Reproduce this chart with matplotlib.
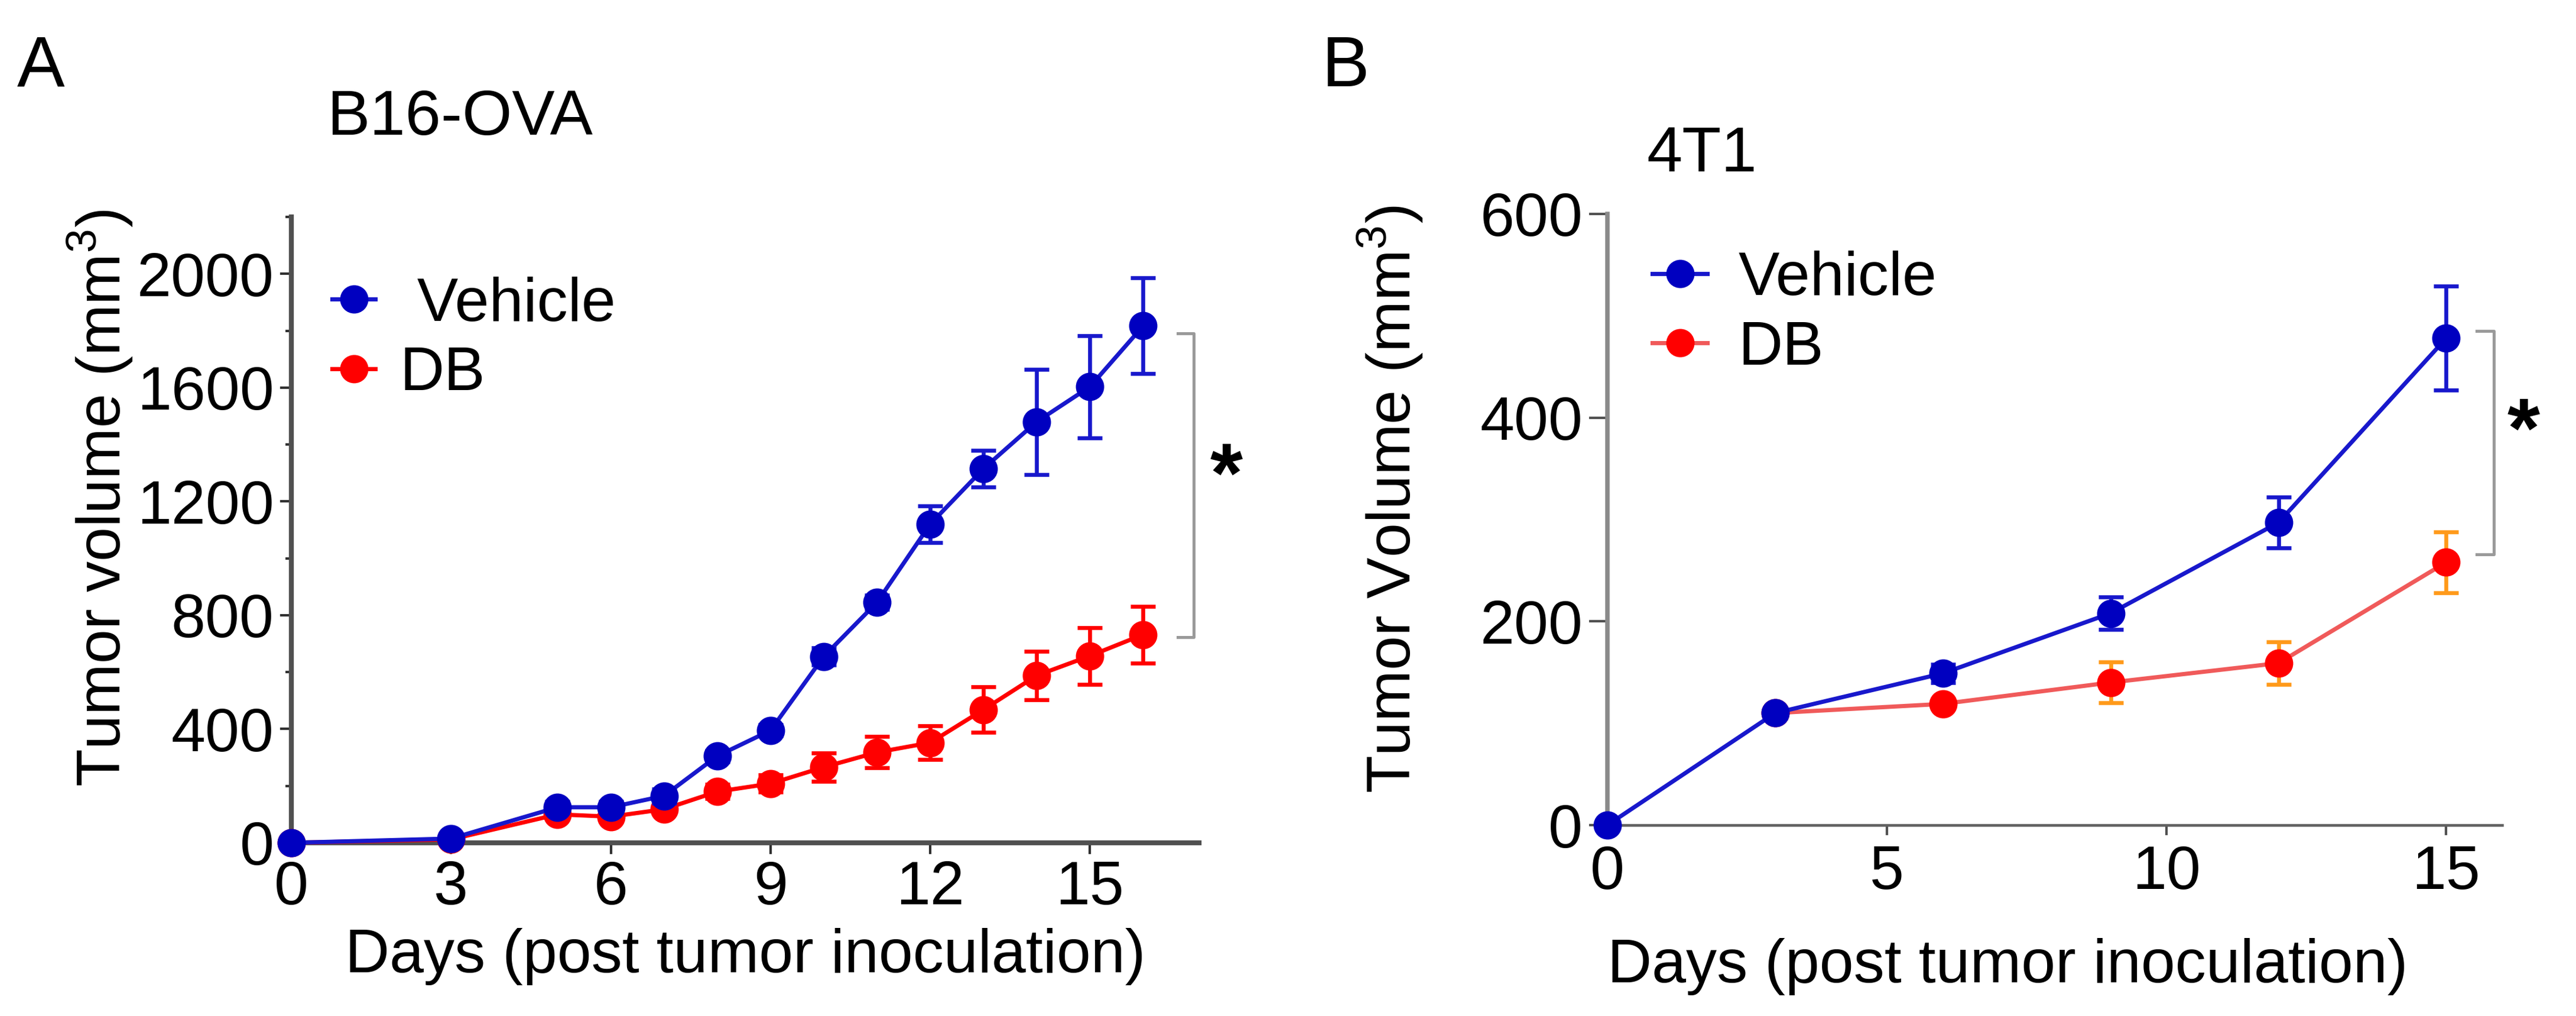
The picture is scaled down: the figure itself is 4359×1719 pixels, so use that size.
import numpy as np
import matplotlib
matplotlib.use("Agg")
import matplotlib.pyplot as plt
from matplotlib.ticker import MultipleLocator
from matplotlib.lines import Line2D

plt.rcParams['font.family'] = ['Liberation Sans', 'DejaVu Sans']
plt.rcParams['mathtext.fontset'] = 'custom'
plt.rcParams['mathtext.rm'] = 'Liberation Sans'

# Panel A: B16-OVA
days_a = [0, 3, 5, 6, 7, 8, 9, 10, 11, 12, 13, 14, 15, 16]
veh_a = [0, 15, 125, 125, 165, 305, 395, 655, 845, 1120, 1315, 1480, 1603, 1817]
veh_a_err = [0, 10, 20, 20, 25, 20, 20, 30, 25, 65, 65, 185, 180, 168]
db_a = [0, 12, 100, 92, 118, 180, 208, 266, 318, 352, 468, 588, 657, 732]
db_a_err = [0, 5, 10, 10, 15, 25, 30, 50, 55, 60, 80, 85, 100, 100]

# Panel B: 4T1
days_b = [0, 3, 6, 9, 12, 15]
veh_b = [0, 110, 149, 208, 297, 478]
veh_b_err = [0, 5, 9, 16, 25, 51]
db_days_b = [3, 6, 9, 12, 15]
db_b = [110, 119, 140, 159, 258]
db_b_err = [0, 4, 20, 21, 30]

BLUE = '#0000c0'
BLUE_LINE = '#1818cc'
RED = '#ff0000'
RED_LINE_B = '#f05a5a'
ORANGE = '#ff9a1a'

W, H = 4359, 1719
DPI = 300
fig = plt.figure(figsize=(W / DPI, H / DPI), dpi=DPI)


def px_axes(left, top, right, bottom):
    return fig.add_axes([left / W, 1 - bottom / H, (right - left) / W, (bottom - top) / H])


FS = 25
MS = 10.5

# ---------- Panel A ----------
axA = px_axes(493, 367, 2029, 1426)
axA.errorbar(days_a, db_a, yerr=db_a_err, color=RED, ecolor=RED, marker='o', ms=MS,
             lw=1.7, elinewidth=1.6, capsize=5, capthick=1.6, clip_on=False, zorder=3)
axA.errorbar(days_a, veh_a, yerr=veh_a_err, color=BLUE_LINE, mfc=BLUE, mec=BLUE, ecolor=BLUE_LINE,
             marker='o', ms=MS, lw=1.7, elinewidth=1.6, capsize=5, capthick=1.6, clip_on=False, zorder=4)
axA.set_xlim(0, 17.05)
axA.set_ylim(0, 2200)
axA.set_xticks([0, 3, 6, 9, 12, 15])
axA.set_yticks([0, 400, 800, 1200, 1600, 2000])
axA.yaxis.set_minor_locator(MultipleLocator(200))
for s in ['top', 'right']:
    axA.spines[s].set_visible(False)
for s in ['left', 'bottom']:
    axA.spines[s].set_linewidth(2.0)
    axA.spines[s].set_color('#505050')
axA.tick_params(axis='both', which='major', labelsize=FS, length=4.5, width=1.0, color='#303030', pad=2.5)
axA.tick_params(axis='y', which='minor', length=2.5, width=1.0, color='#303030')
axA.set_ylabel(r'Tumor volume (mm$^{3}$)', fontsize=FS, va='center')
axA.yaxis.set_label_coords(-0.211, 0.551)
axA.set_xlabel('Days (post tumor inoculation)', fontsize=FS, va='center')
axA.xaxis.set_label_coords(0.5, -0.182)

hA = [Line2D([], [], color=BLUE_LINE, mfc=BLUE, mec=BLUE, marker='o', ms=MS, lw=1.7),
      Line2D([], [], color=RED, marker='o', ms=MS, lw=1.7)]
axA.legend(hA, [' Vehicle', 'DB'], loc='upper left', bbox_to_anchor=(0.045, 0.905), frameon=False,
           fontsize=FS, handlelength=0.7, handletextpad=0.4, labelspacing=0.2, borderpad=0, borderaxespad=0)

# significance bracket A
bx = 16.95
axA.plot([bx - 0.3, bx, bx, bx - 0.3], [1790, 1790, 722, 722], color='#9a9a9a', lw=1.2, clip_on=False)
axA.text(17.56, 1277, '*', fontsize=34, fontweight='bold', ha='center', va='center')

# ---------- Panel B ----------
axB = px_axes(2720, 362, 4234, 1396)
axB.errorbar(db_days_b, db_b, yerr=db_b_err, color=RED_LINE_B, mfc=RED, mec=RED, ecolor=ORANGE,
             marker='o', ms=MS, lw=1.7, elinewidth=1.6, capsize=5, capthick=1.6, clip_on=False, zorder=3)
axB.errorbar(days_b, veh_b, yerr=veh_b_err, color=BLUE_LINE, mfc=BLUE, mec=BLUE, ecolor=BLUE_LINE,
             marker='o', ms=MS, lw=1.7, elinewidth=1.6, capsize=5, capthick=1.6, clip_on=False, zorder=4)
axB.set_xlim(0, 16)
axB.set_ylim(0, 600)
axB.set_xticks([0, 5, 10, 15])
axB.set_yticks([0, 200, 400, 600])
for s in ['top', 'right']:
    axB.spines[s].set_visible(False)
axB.spines['left'].set_linewidth(1.8)
axB.spines['left'].set_color('#8a8a8a')
axB.spines['bottom'].set_linewidth(1.1)
axB.spines['bottom'].set_color('#606060')
axB.tick_params(axis='y', labelsize=FS, length=7.5, width=1.0, color='#505050', pad=2.5)
axB.tick_params(axis='x', labelsize=FS, length=4, width=1.0, color='#505050', pad=4)
axB.set_ylabel(r'Tumor Volume (mm$^{3}$)', fontsize=FS, va='center')
axB.yaxis.set_label_coords(-0.2437, 0.533)
axB.set_xlabel('Days (post tumor inoculation)', fontsize=FS, va='center')
axB.xaxis.set_label_coords(0.447, -0.232)

hB = [Line2D([], [], color=BLUE_LINE, mfc=BLUE, mec=BLUE, marker='o', ms=MS, lw=1.7),
      Line2D([], [], color=RED_LINE_B, mfc=RED, mec=RED, marker='o', ms=MS, lw=1.7)]
axB.legend(hB, ['Vehicle', 'DB'], loc='upper left', bbox_to_anchor=(0.05, 0.94), frameon=False,
           fontsize=FS, handlelength=0.9, handletextpad=0.5, labelspacing=0.2, borderpad=0, borderaxespad=0)

bxb = 15.85
axB.plot([bxb - 0.3, bxb, bxb, bxb - 0.3], [485, 485, 266, 266], color='#9a9a9a', lw=1.2, clip_on=False)
axB.text(16.38, 383, '*', fontsize=34, fontweight='bold', ha='center', va='center')

# panel letters and titles
fig.text(69 / W, 1 - 114 / H, 'A', fontsize=29, ha='center', va='center')
fig.text(778 / W, 1 - 200 / H, 'B16-OVA', fontsize=26, ha='center', va='center')
fig.text(2276 / W, 1 - 115 / H, 'B', fontsize=29, ha='center', va='center')
fig.text(2880 / W, 1 - 262 / H, '4T1', fontsize=26, ha='center', va='center')

fig.savefig('out.png', dpi=DPI, facecolor='white')
